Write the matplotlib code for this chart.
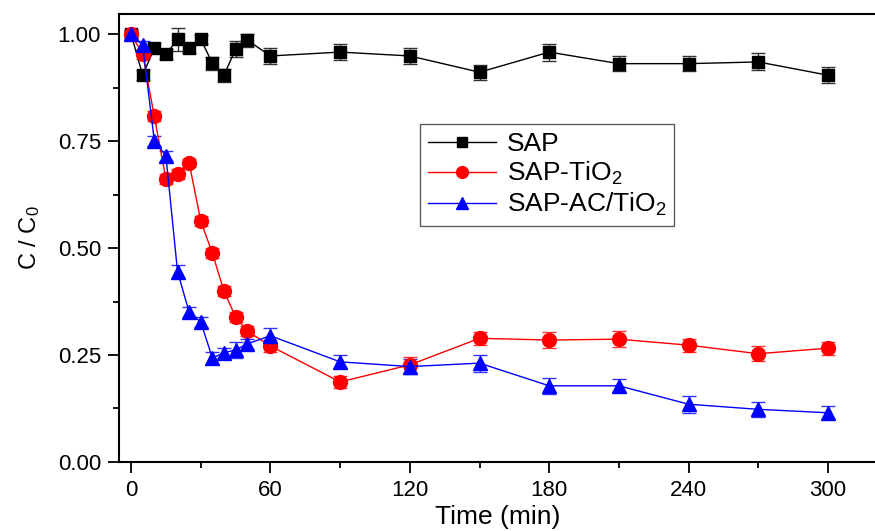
import matplotlib
matplotlib.use('Agg')
import matplotlib.pyplot as plt
from matplotlib.ticker import MultipleLocator, FormatStrFormatter

# dados
tempo = [0, 5, 10, 15, 20, 25, 30, 35, 40, 45, 50, 60, 90, 120, 150, 180, 210, 240, 270, 300]

sap = [1.00, 0.904, 0.967, 0.953, 0.988, 0.967, 0.988, 0.932, 0.904, 0.965, 0.986, 0.949,
       0.958, 0.949, 0.911, 0.958, 0.931, 0.931, 0.935, 0.904]
sap_err = [0.010, 0.012, 0.012, 0.012, 0.027, 0.010, 0.010, 0.015, 0.015, 0.018, 0.015, 0.018,
           0.018, 0.018, 0.018, 0.020, 0.018, 0.018, 0.020, 0.018]

sap_tio2 = [1.00, 0.953, 0.808, 0.661, 0.673, 0.699, 0.563, 0.488, 0.399, 0.339, 0.306, 0.271,
            0.187, 0.227, 0.289, 0.285, 0.287, 0.273, 0.253, 0.266]
sap_tio2_err = [0.010, 0.012, 0.012, 0.012, 0.012, 0.010, 0.012, 0.012, 0.012, 0.012, 0.012, 0.015,
                0.015, 0.018, 0.015, 0.018, 0.018, 0.015, 0.018, 0.015]

sap_ac = [1.00, 0.974, 0.751, 0.715, 0.445, 0.350, 0.327, 0.243, 0.255, 0.262, 0.276, 0.295,
          0.234, 0.223, 0.231, 0.178, 0.178, 0.135, 0.123, 0.115]
sap_ac_err = [0.010, 0.010, 0.012, 0.012, 0.015, 0.012, 0.012, 0.015, 0.012, 0.018, 0.012, 0.018,
              0.015, 0.018, 0.020, 0.018, 0.015, 0.020, 0.018, 0.015]

ld = ['SAP', r'SAP-TiO$_2$', r'SAP-AC/TiO$_2$']
xlabel = 'Time (min)'
ylabel = r'C / C$_0$'

plt.rcParams['font.family'] = ['Liberation Sans', 'DejaVu Sans']
plt.rcParams['mathtext.fontset'] = 'custom'
plt.rcParams['mathtext.rm'] = 'Liberation Sans'
plt.rcParams['mathtext.it'] = 'Liberation Sans'

fig = plt.figure(figsize=(8.75, 5.31), dpi=100)
ax = fig.add_axes([0.136, 0.130, 0.8663, 0.8436])

c1 = ax.errorbar(tempo, sap, yerr=sap_err, color='black', marker='s', ms=9, lw=1,
                 capsize=5, elinewidth=1, ecolor='#333333')
c2 = ax.errorbar(tempo, sap_tio2, yerr=sap_tio2_err, color='#ff0000', marker='o', ms=10, lw=1,
                 capsize=5, elinewidth=1, ecolor='#ff3333')
c3 = ax.errorbar(tempo, sap_ac, yerr=sap_ac_err, color='#0000ff', marker='^', ms=10, lw=1,
                 capsize=5, elinewidth=1, ecolor='#3333ff')

ax.set_xlim(-5.2, 321.1)
ax.set_ylim(0, 1.047)
ax.xaxis.set_major_locator(MultipleLocator(60))
ax.xaxis.set_minor_locator(MultipleLocator(30))
ax.yaxis.set_major_locator(MultipleLocator(0.25))
ax.yaxis.set_minor_locator(MultipleLocator(0.125))
ax.yaxis.set_major_formatter(FormatStrFormatter('%.2f'))

ax.tick_params(which='major', direction='out', length=8, width=1.3, labelsize=16, pad=5)
ax.tick_params(which='minor', direction='out', length=4.5, width=1.3)
for s in ax.spines.values():
    s.set_linewidth(1.5)

ax.set_xlabel(xlabel, fontsize=19, labelpad=3)
ax.set_ylabel(ylabel, fontsize=17, labelpad=11)

hs = [c1.lines[0], c2.lines[0], c3.lines[0]]
leg = ax.legend(hs, ld, loc='upper left', bbox_to_anchor=(0.397, 0.754), fontsize=19,
                numpoints=1, markerscale=0.85, handlelength=2.6, frameon=True, fancybox=False,
                edgecolor='#333333', borderpad=0.3, labelspacing=0.15, handletextpad=0.4,
                borderaxespad=0)
leg.get_frame().set_linewidth(1)

plt.savefig('out.png', dpi=100)
